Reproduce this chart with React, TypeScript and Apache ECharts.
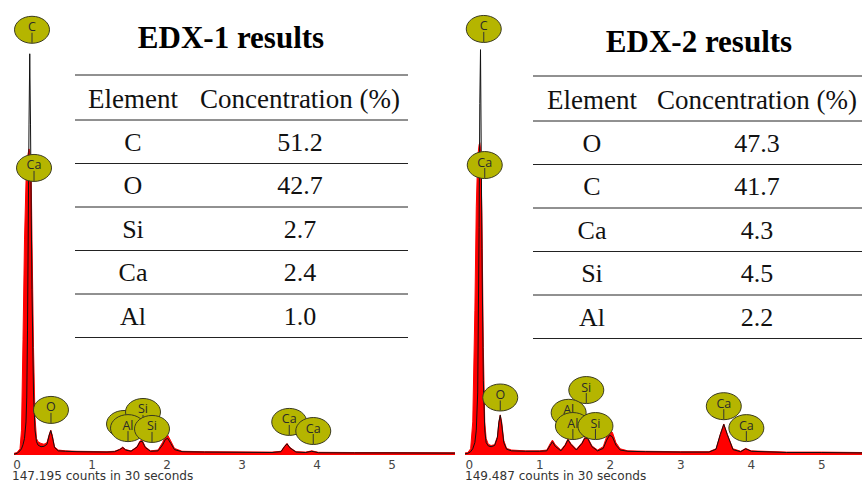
import React, { useEffect, useRef } from 'react';
import * as echarts from 'echarts';

// ---------- EDX-1 spectrum ----------
const energy1 = [-0.04, 0.00, 0.04, 0.06, 0.08, 0.10, 0.12, 0.13, 0.14, 0.16, 0.17, 0.18, 0.19, 0.20, 0.22, 0.24, 0.26, 0.28, 0.32, 0.36, 0.40, 0.43, 0.45, 0.47, 0.50, 0.55, 0.65, 0.80, 1.00, 1.20, 1.30, 1.37, 1.41, 1.45, 1.52, 1.60, 1.64, 1.67, 1.71, 1.78, 1.88, 1.94, 1.98, 2.01, 2.05, 2.10, 2.20, 2.50, 3.00, 3.40, 3.52, 3.57, 3.60, 3.64, 3.72, 3.85, 3.93, 4.02, 4.50, 5.00, 5.84];
const fill1 = [0.4, 0.6, 1.5, 6, 28, 52, 66, 70, 72, 74, 73, 71, 66, 52, 26, 9, 4, 3.2, 2.8, 2.6, 3.0, 5.0, 6.0, 4.8, 2.0, 1.2, 1.0, 0.9, 0.85, 0.8, 0.9, 1.4, 1.9, 1.3, 1.0, 2.0, 3.4, 3.5, 2.0, 1.0, 1.2, 3.0, 4.6, 4.8, 3.4, 1.6, 0.9, 0.8, 0.75, 0.7, 0.9, 2.2, 2.8, 1.8, 0.8, 0.7, 1.0, 0.65, 0.6, 0.6, 0.55];
const line1 = [0.2, 0.4, 1, 1.5, 2.5, 4, 8, 14, 30, 80, 97, 80, 58, 40, 15, 6, 3.2, 2.4, 2.0, 2.1, 2.6, 4.8, 5.9, 4.5, 1.8, 1.0, 0.9, 0.8, 0.75, 0.7, 0.8, 1.3, 1.8, 1.2, 0.9, 1.9, 3.2, 3.3, 1.8, 0.9, 1.0, 2.4, 3.8, 4.0, 2.8, 1.3, 0.8, 0.7, 0.65, 0.6, 0.8, 2.1, 2.7, 1.7, 0.7, 0.6, 0.9, 0.55, 0.5, 0.5, 0.45];

// ---------- EDX-2 spectrum ----------
const energy2 = [-0.06, -0.02, 0.02, 0.05, 0.08, 0.10, 0.12, 0.14, 0.15, 0.16, 0.18, 0.20, 0.22, 0.24, 0.27, 0.31, 0.36, 0.40, 0.42, 0.44, 0.46, 0.49, 0.53, 0.60, 0.80, 1.00, 1.10, 1.15, 1.18, 1.22, 1.30, 1.36, 1.40, 1.44, 1.52, 1.60, 1.64, 1.68, 1.74, 1.82, 1.90, 1.95, 1.99, 2.03, 2.08, 2.14, 2.25, 2.50, 3.00, 3.40, 3.50, 3.56, 3.61, 3.66, 3.74, 3.85, 3.92, 4.00, 4.50, 5.00, 5.57];
const fill2 = [0.5, 0.6, 1.5, 8, 35, 60, 72, 75, 75.5, 74, 58, 26, 8, 4, 2.6, 2.3, 2.5, 4.5, 8, 9.7, 8, 3.5, 1.6, 1.2, 1.0, 1.0, 1.2, 2.8, 3.6, 2.5, 1.2, 2.5, 3.9, 2.8, 1.4, 3.0, 4.3, 4.2, 2.2, 1.2, 2.0, 4.5, 6.0, 5.5, 3.0, 1.5, 1.0, 0.9, 0.8, 0.8, 1.5, 5.0, 7.5, 5.0, 1.5, 0.9, 1.6, 1.0, 0.7, 0.7, 0.6];
const line2 = [0.3, 0.4, 0.8, 1.5, 3, 6, 15, 55, 85, 98, 50, 18, 6, 3, 2.2, 2.0, 2.3, 4.2, 7.8, 9.6, 7.5, 3.0, 1.4, 1.0, 0.9, 0.9, 1.0, 2.4, 3.2, 2.1, 1.0, 2.3, 3.7, 2.6, 1.2, 2.8, 4.1, 4.0, 2.0, 1.0, 1.6, 3.6, 4.8, 4.4, 2.4, 1.2, 0.9, 0.8, 0.7, 0.7, 1.4, 4.9, 7.4, 4.9, 1.3, 0.8, 1.5, 0.9, 0.6, 0.6, 0.5];

// ---------- axis ticks ----------
const tickValues = [0, 1, 2, 3, 4, 5];

// ---------- peak markers ----------
const peakLabels1 = ['C', 'Ca', 'O', 'Al', 'Si', 'Al', 'Si', 'Ca', 'Ca'];
const peakEnergy1 = [0.2, 0.227, 0.453, 1.427, 1.68, 1.48, 1.8, 3.63, 3.95];
const peakY1 = [102.8, 69.4, 10.9, 7.5, 10.4, 6.5, 6.3, 8.0, 5.8];

const peakLabels2 = ['C', 'Ca', 'O', 'Si', 'Al', 'Al', 'Si', 'Ca', 'Ca'];
const peakEnergy2 = [0.206, 0.22, 0.44, 1.66, 1.41, 1.47, 1.79, 3.61, 3.93];
const peakY2 = [103, 70.1, 13.9, 15.7, 10.2, 7.0, 7.0, 11.8, 6.5];

// ---------- tables ----------
const title1 = 'EDX-1 results';
const title2 = 'EDX-2 results';
const headers = ['Element', 'Concentration (%)'];
const elements1 = ['C', 'O', 'Si', 'Ca', 'Al'];
const conc1 = ['51.2', '42.7', '2.7', '2.4', '1.0'];
const elements2 = ['O', 'C', 'Ca', 'Si', 'Al'];
const conc2 = ['47.3', '41.7', '4.3', '4.5', '2.2'];
const counts1 = '147.195 counts in 30 seconds';
const counts2 = '149.487 counts in 30 seconds';

const SERIF = '"Liberation Serif", "Times New Roman", serif';
const SANS = '"DejaVu Sans", Verdana, sans-serif';

const pairs = (xs: number[], ys: number[]) => xs.map((x, i) => [x, ys[i]]);

const makeRender = (labels: string[]) => (params: any, api: any) => {
  const p = api.coord([api.value(0), api.value(1)]);
  const cx = p[0];
  const cy = p[1];
  return {
    type: 'group',
    children: [
      { type: 'ellipse', shape: { cx, cy, rx: 17.5, ry: 13.5 }, style: { fill: '#b5b500', stroke: '#3b3b20', lineWidth: 1 } },
      { type: 'line', shape: { x1: cx, y1: cy + 3, x2: cx, y2: cy + 13 }, style: { stroke: '#333', lineWidth: 1 } },
      {
        type: 'text',
        style: {
          text: labels[params.dataIndex], x: cx, y: cy - 3, align: 'center', verticalAlign: 'middle',
          fill: '#2a2a2a', fontSize: 12.5, fontFamily: '"Open Sans", sans-serif'
        }
      }
    ]
  };
};

function tableGraphics(x0: number, x1: number, colA: number, colB: number, titleX: number, titleY: number, title: string, els: string[], cs: string[], dy: number) {
  const out: any[] = [];
  out.push({
    type: 'text', x: titleX, y: titleY + dy,
    style: { text: title, align: 'center', verticalAlign: 'middle', fontFamily: SERIF, fontWeight: 'bold', fontSize: 31, fill: '#000' }
  });
  const lineYs = [75, 120, 163.5, 207, 250.5, 294, 337.5];
  lineYs.forEach((y) => {
    out.push({ type: 'line', shape: { x1: x0, y1: y + dy, x2: x1, y2: y + dy }, style: { stroke: '#222', lineWidth: 1 } });
  });
  const txt = (t: string, x: number, y: number, size: number) => ({
    type: 'text', x, y: y + dy,
    style: { text: t, align: 'center', verticalAlign: 'middle', fontFamily: SERIF, fontWeight: 'normal', fontSize: size, fill: '#111' }
  });
  out.push(txt(headers[0], colA, 99, 27));
  out.push(txt(headers[1], colB, 99, 27));
  els.forEach((e, i) => {
    out.push(txt(e, colA, 142 + i * 43.6, 26));
    out.push(txt(cs[i], colB, 142 + i * 43.6, 26));
  });
  return out;
}

export default function App() {
  const ref = useRef<HTMLDivElement>(null);
  useEffect(() => {
    if (!ref.current) return;
    const chart = echarts.init(ref.current, null, { renderer: 'svg' });
    const xAxisBase = {
      type: 'value',
      axisLine: { show: false },
      axisTick: { show: false },
      splitLine: { show: false },
      axisLabel: { customValues: tickValues, color: '#444', fontSize: 12, fontFamily: SANS, margin: 4 }
    };
    chart.setOption({
      animation: false,
      backgroundColor: '#fff',
      grid: [
        { left: 14, width: 441, top: 0, height: 455 },
        { left: 465, width: 397, top: 0, height: 455 }
      ],
      xAxis: [
        { ...xAxisBase, gridIndex: 0, min: -0.04, max: 5.84 },
        { ...xAxisBase, gridIndex: 1, min: -0.06, max: 5.57 }
      ],
      yAxis: [
        { type: 'value', gridIndex: 0, min: 0, max: 110, show: false },
        { type: 'value', gridIndex: 1, min: 0, max: 110, show: false }
      ],
      series: [
        {
          type: 'line', xAxisIndex: 0, yAxisIndex: 0, data: pairs(energy1, fill1), symbol: 'none',
          lineStyle: { width: 1, color: '#ff0000' }, areaStyle: { color: '#ff0000', opacity: 1 }
        },
        {
          type: 'line', xAxisIndex: 0, yAxisIndex: 0, data: pairs(energy1, line1), symbol: 'none',
          lineStyle: { width: 1, color: '#111' }
        },
        {
          type: 'custom', xAxisIndex: 0, yAxisIndex: 0, data: pairs(peakEnergy1, peakY1), clip: false, z: 10,
          renderItem: makeRender(peakLabels1)
        },
        {
          type: 'line', xAxisIndex: 1, yAxisIndex: 1, data: pairs(energy2, fill2), symbol: 'none',
          lineStyle: { width: 1, color: '#ff0000' }, areaStyle: { color: '#ff0000', opacity: 1 }
        },
        {
          type: 'line', xAxisIndex: 1, yAxisIndex: 1, data: pairs(energy2, line2), symbol: 'none',
          lineStyle: { width: 1, color: '#111' }
        },
        {
          type: 'custom', xAxisIndex: 1, yAxisIndex: 1, data: pairs(peakEnergy2, peakY2), clip: false, z: 10,
          renderItem: makeRender(peakLabels2)
        }
      ],
      graphic: [
        ...tableGraphics(75, 408, 133, 300, 231, 37, title1, elements1, conc1, 0),
        ...tableGraphics(533, 862, 592, 757, 699, 40, title2, elements2, conc2, 1),
        {
          type: 'text', x: 12, y: 476.5, scaleX: 1.05,
          style: { text: counts1, verticalAlign: 'middle', fontFamily: SANS, fontSize: 11.5, fill: '#333' }
        },
        {
          type: 'text', x: 465, y: 476.5, scaleX: 1.05,
          style: { text: counts2, verticalAlign: 'middle', fontFamily: SANS, fontSize: 11.5, fill: '#333' }
        }
      ]
    });
    return () => chart.dispose();
  }, []);
  return <div ref={ref} style={{ position: 'fixed', left: 0, top: 0, width: 862, height: 482, background: '#fff' }} />;
}
